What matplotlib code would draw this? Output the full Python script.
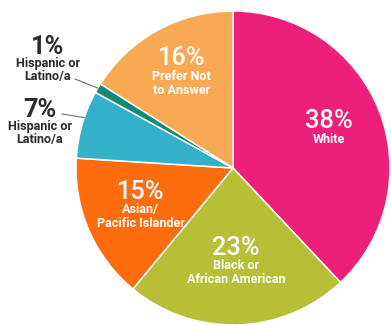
import numpy as np
import matplotlib
matplotlib.use("Agg")
import matplotlib.pyplot as plt

plt.rcParams['font.family'] = ['Roboto', 'DejaVu Sans']

# data, clockwise from 12 o'clock
shares = [38, 23, 15, 7, 1, 16]
labels = ["White", "Black or\nAfrican American", "Asian/\nPacific Islander",
          "Hispanic or\nLatino/a", "Hispanic or\nLatino/a", "Prefer Not\nto Answer"]
colors = ["#EC1F7A", "#B6BF36", "#FE6C10", "#34B0C9", "#0F8A73", "#F9A953"]
inside = [True, True, True, False, False, True]

W, H = 391, 325
fig = plt.figure(figsize=(W / 100, H / 100), dpi=100)
ax = fig.add_axes([0, 0, 1, 1])

cx, cy, r = 233, H - 168, 157
wedges, _ = ax.pie(shares, colors=colors, startangle=90, counterclock=False,
                   center=(cx, cy), radius=r, frame=True,
                   wedgeprops=dict(edgecolor='white', linewidth=1.1))
ax.set_xlim(0, W)
ax.set_ylim(0, H)
ax.axis('off')

PCT_FS, LBL_FS = 18.3, 9.1
fracs = {0: 0.655, 1: 0.61, 2: 0.64, 5: 0.68}
# outside labels: percent-text centre and leader start, pixels from top-left
out_pos = {3: (40, 110), 4: (48, 47)}
lead_start = {3: (62, 114), 4: (75, 79)}
lead_at = {3: 0.4, 4: 0.5}

for i, w in enumerate(wedges):
    n = labels[i].count("\n") + 1
    if inside[i]:
        mid = np.deg2rad((w.theta1 + w.theta2) / 2)
        x = cx + fracs[i] * r * np.cos(mid)
        yc = cy + fracs[i] * r * np.sin(mid)
        py = yc + (18 + 14 * (n - 1)) / 2
        ax.text(x, py, f"{shares[i]}%", color='white', fontsize=PCT_FS,
                fontweight='medium', ha='center', va='center')
        ax.text(x, py - 18 - 14 * (n - 1) / 2, labels[i], color='white',
                fontsize=LBL_FS, fontweight='bold', ha='center', va='center',
                linespacing=1.1)
    else:
        tx, py = out_pos[i][0], H - out_pos[i][1]
        a = np.deg2rad(w.theta1 + lead_at[i] * (w.theta2 - w.theta1))
        ex, ey = cx + r * np.cos(a), cy + r * np.sin(a)
        sx, sy = lead_start[i][0], H - lead_start[i][1]
        ax.plot([sx, ex], [sy, ey], color='#6f6f6f', lw=0.8)
        ax.text(tx, py, f"{shares[i]}%", color='#2b2b2b', fontsize=PCT_FS,
                fontweight='bold', ha='center', va='center')
        ax.text(tx, py - 17 - 12.5 * (n - 1) / 2, labels[i], color='#2b2b2b',
                fontsize=LBL_FS, fontweight='bold', ha='center', va='center',
                linespacing=1.0)

fig.savefig("out.png", dpi=100)
